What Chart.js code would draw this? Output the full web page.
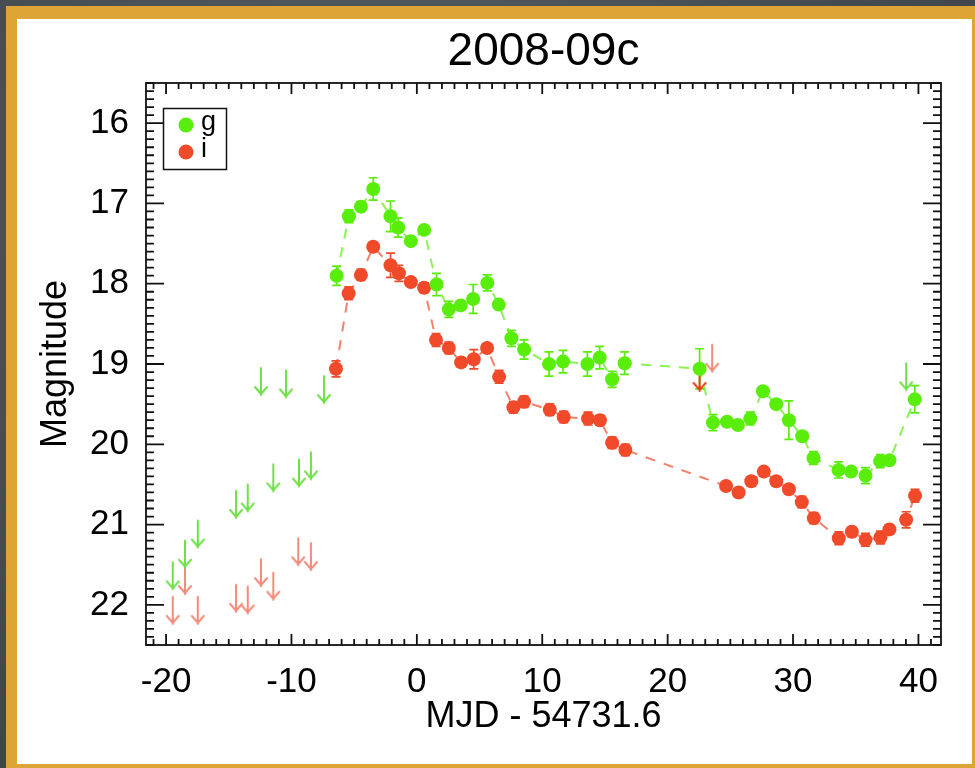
<!DOCTYPE html>
<html>
<head>
<meta charset="utf-8">
<script src="https://cdn.jsdelivr.net/npm/chart.js@4"></script>
<style>
  html, body { margin:0; padding:0; }
  body { width:975px; height:768px; overflow:hidden; position:relative;
         background: radial-gradient(ellipse at 40% 30%, #576066 0%, #474e53 55%, #3a4044 100%); }
  #frame { position:absolute; left:6px; top:6px; width:980px; height:775px; background:#dca536; }
  #paper { position:absolute; left:17px; top:19px; width:955px; height:745px; background:#fff; }
  #c { position:absolute; left:0; top:0; }
</style>
</head>
<body>
<div id="frame"></div>
<div id="paper"></div>
<canvas id="c" width="975" height="768"></canvas>
<script>
// ── DATA ──
const gDays = [-6.40, -5.42, -4.46, -3.48, -2.10, -1.49, -0.48, 0.58, 1.57, 2.55, 3.50, 4.49, 5.62, 6.53, 7.54, 8.55, 10.54, 11.66, 13.60, 14.58, 15.57, 16.57, 22.55, 23.61, 24.73, 25.60, 26.59, 27.60, 28.66, 29.67, 30.73, 31.63, 33.63, 34.63, 35.78, 36.95, 37.69, 39.71];
const gMag  = [17.90, 17.16, 17.04, 16.82, 17.16, 17.30, 17.47, 17.33, 18.01, 18.32, 18.27, 18.19, 17.99, 18.26, 18.68, 18.82, 19.00, 18.97, 19.00, 18.92, 19.19, 18.99, 19.06, 19.73, 19.72, 19.76, 19.68, 19.34, 19.50, 19.70, 19.90, 20.17, 20.32, 20.34, 20.39, 20.21, 20.20, 19.44];
const gErr  = [0.12, 0.08, 0.06, 0.14, 0.19, 0.12, 0.05, 0.04, 0.14, 0.10, 0.05, 0.18, 0.10, 0.04, 0.10, 0.12, 0.15, 0.14, 0.15, 0.14, 0.10, 0.14, 0.25, 0.10, 0.05, 0.05, 0.08, 0.04, 0.04, 0.24, 0.05, 0.08, 0.10, 0.05, 0.10, 0.08, 0.05, 0.17];

const iDays = [-6.45, -5.44, -4.46, -3.48, -2.10, -1.43, -0.48, 0.58, 1.53, 2.55, 3.53, 4.54, 5.60, 6.56, 7.70, 8.55, 10.60, 11.71, 13.65, 14.60, 15.57, 16.63, 24.66, 25.66, 26.67, 27.67, 28.66, 29.67, 30.70, 31.66, 33.65, 34.69, 35.78, 36.97, 37.69, 39.02, 39.73];
const iMag  = [19.06, 18.12, 17.89, 17.54, 17.77, 17.87, 17.98, 18.05, 18.70, 18.80, 18.98, 18.94, 18.80, 19.16, 19.54, 19.47, 19.57, 19.66, 19.68, 19.70, 19.98, 20.07, 20.52, 20.60, 20.46, 20.34, 20.46, 20.56, 20.72, 20.92, 21.17, 21.09, 21.19, 21.16, 21.06, 20.94, 20.64];
const iErr  = [0.10, 0.08, 0.07, 0.05, 0.15, 0.10, 0.05, 0.06, 0.08, 0.07, 0.06, 0.12, 0.05, 0.08, 0.07, 0.07, 0.07, 0.07, 0.08, 0.06, 0.07, 0.07, 0.05, 0.05, 0.05, 0.05, 0.05, 0.05, 0.07, 0.07, 0.08, 0.06, 0.08, 0.08, 0.06, 0.10, 0.08];

// upper limits (arrow starts at the limit and points to fainter mags)
const gLimDays = [-19.47, -18.49, -17.47, -14.42, -13.49, -12.43, -11.45, -10.44, -9.40, -8.45, -7.41, 39.02];
const gLimMag  = [21.47, 21.20, 20.95, 20.58, 20.50, 19.05, 20.25, 19.08, 20.19, 20.10, 19.15, 18.99];
const iLimDays = [-19.47, -18.49, -17.47, -14.42, -13.49, -12.43, -11.45, -9.46, -8.45, 22.55, 23.55];
const iLimMag  = [21.90, 21.53, 21.90, 21.75, 21.77, 21.43, 21.60, 21.17, 21.23, 19.00, 18.76];
const iLimSolid = [0, 0, 0, 0, 0, 0, 0, 0, 0, 1, 0];

const xTicks = [-20, -10, 0, 10, 20, 30, 40];
const yTicks = [16, 17, 18, 19, 20, 21, 22];
const bands  = ['g', 'i'];
const TITLE  = '2008-09c';

// ── STYLE ──
const FONT = "'Liberation Sans', Arial, Helvetica, sans-serif";
const GREEN = '#58ee0a', RED = '#f04a2a';
const GREEN_LINE = 'rgba(88,238,10,0.7)', RED_LINE = 'rgba(240,74,42,0.7)';

function arrowImg(color) {
  const c = document.createElement('canvas');
  c.width = 16; c.height = 60;
  const x = c.getContext('2d');
  x.strokeStyle = color; x.lineWidth = 2; x.lineCap = 'round';
  x.beginPath(); x.moveTo(8, 30); x.lineTo(8, 57); x.stroke();
  x.beginPath(); x.moveTo(2, 49); x.lineTo(8, 56); x.lineTo(14, 49); x.stroke();
  return c;
}
const arrowG = arrowImg('#6fe048'), arrowR = arrowImg('#f58b7b'), arrowRdark = arrowImg('#e83e1a');

const pts = (xs, ys) => xs.map((v, i) => ({ x: v, y: ys[i] }));

// ── PLUGINS ──
const errorBars = {
  id: 'errorBars',
  beforeDatasetsDraw(chart) {
    const { ctx, scales: { x, y } } = chart;
    [[gDays, gMag, gErr, GREEN], [iDays, iMag, iErr, RED]].forEach(([xs, ys, es, col]) => {
      ctx.save(); ctx.strokeStyle = col; ctx.lineWidth = 1.7;
      xs.forEach((d, i) => {
        const px = x.getPixelForValue(d), y0 = y.getPixelForValue(ys[i] - es[i]), y1 = y.getPixelForValue(ys[i] + es[i]);
        ctx.beginPath();
        ctx.moveTo(px, y0); ctx.lineTo(px, y1);
        ctx.moveTo(px - 4.5, y0); ctx.lineTo(px + 4.5, y0);
        ctx.moveTo(px - 4.5, y1); ctx.lineTo(px + 4.5, y1);
        ctx.stroke();
      });
      ctx.restore();
    });
  }
};

const frameTicks = {
  id: 'frameTicks',
  afterDraw(chart) {
    const { ctx, chartArea: a, scales: { x, y } } = chart;
    ctx.save();
    // title, centred over the plot box
    ctx.fillStyle = '#000'; ctx.font = `46px ${FONT}`; ctx.textAlign = 'center'; ctx.textBaseline = 'alphabetic';
    ctx.fillText(TITLE, (a.left + a.right) / 2, 65);

    ctx.strokeStyle = '#111'; ctx.lineWidth = 1.8;
    ctx.strokeRect(a.left, a.top, a.right - a.left, a.bottom - a.top);
    ctx.beginPath();
    for (let v = Math.ceil(x.min); v <= Math.floor(x.max); v++) {
      const px = x.getPixelForValue(v), len = v % 10 === 0 ? 11 : 6;
      ctx.moveTo(px, a.bottom); ctx.lineTo(px, a.bottom - len);
      ctx.moveTo(px, a.top); ctx.lineTo(px, a.top + len);
    }
    for (let k = Math.ceil(y.min * 10); k <= Math.floor(y.max * 10); k++) {
      const py = y.getPixelForValue(k / 10), len = k % 10 === 0 ? 18 : 8;
      ctx.moveTo(a.left, py); ctx.lineTo(a.left + len, py);
      ctx.moveTo(a.right, py); ctx.lineTo(a.right - len, py);
    }
    ctx.stroke();

    // legend box
    ctx.lineWidth = 1.5;
    ctx.strokeRect(163.5, 108.5, 63, 61);
    [[GREEN, 125], [RED, 152]].forEach(([col, cy], i) => {
      ctx.fillStyle = col;
      ctx.beginPath(); ctx.arc(186, cy, 7.5, 0, Math.PI * 2); ctx.fill();
      ctx.fillStyle = '#000'; ctx.font = `27px ${FONT}`; ctx.textAlign = 'left';
      ctx.fillText(bands[i], 201, cy + 5);
    });
    ctx.restore();
  }
};

// ── CHART ──
new Chart(document.getElementById('c'), {
  type: 'scatter',
  data: {
    datasets: [
      { label: 'g', data: pts(gDays, gMag), showLine: true, borderColor: GREEN_LINE, borderWidth: 2, borderDash: [10, 9],
        pointRadius: 7, pointBackgroundColor: GREEN, pointBorderWidth: 0 },
      { label: 'i', data: pts(iDays, iMag), showLine: true, borderColor: RED_LINE, borderWidth: 2, borderDash: [10, 9],
        pointRadius: 7, pointBackgroundColor: RED, pointBorderWidth: 0 },
      { label: 'g limit', data: pts(gLimDays, gLimMag), pointStyle: arrowG },
      { label: 'i limit', data: pts(iLimDays, iLimMag), pointStyle: c => iLimSolid[c.dataIndex] ? arrowRdark : arrowR },
    ]
  },
  options: {
    responsive: false, animation: false, devicePixelRatio: 1,
    layout: { padding: { left: 0, right: 34, top: 83, bottom: 0 } },
    plugins: { legend: { display: false }, tooltip: { enabled: false }, title: { display: false } },
    scales: {
      x: {
        type: 'linear', min: -21.6, max: 41.8,
        afterBuildTicks: s => { s.ticks = xTicks.map(v => ({ value: v })); },
        afterFit: s => { s.height = 123; },
        grid: { display: false }, border: { display: false },
        ticks: { color: '#000', font: { family: FONT, size: 35 }, padding: 8, maxRotation: 0 },
        title: { display: true, text: 'MJD - 54731.6', color: '#000', font: { family: FONT, size: 36 }, padding: { bottom: 29 } },
      },
      y: {
        type: 'linear', reverse: true, min: 15.5, max: 22.5,
        afterBuildTicks: s => { s.ticks = yTicks.map(v => ({ value: v })); },
        afterFit: s => { s.width = 146; },
        grid: { display: false }, border: { display: false },
        ticks: { color: '#000', font: { family: FONT, size: 35 }, padding: 9 },
        title: { display: true, text: 'Magnitude', color: '#000', font: { family: FONT, size: 36 }, padding: { top: 34 } },
      },
    },
  },
  plugins: [errorBars, frameTicks],
});
</script>
</body>
</html>
